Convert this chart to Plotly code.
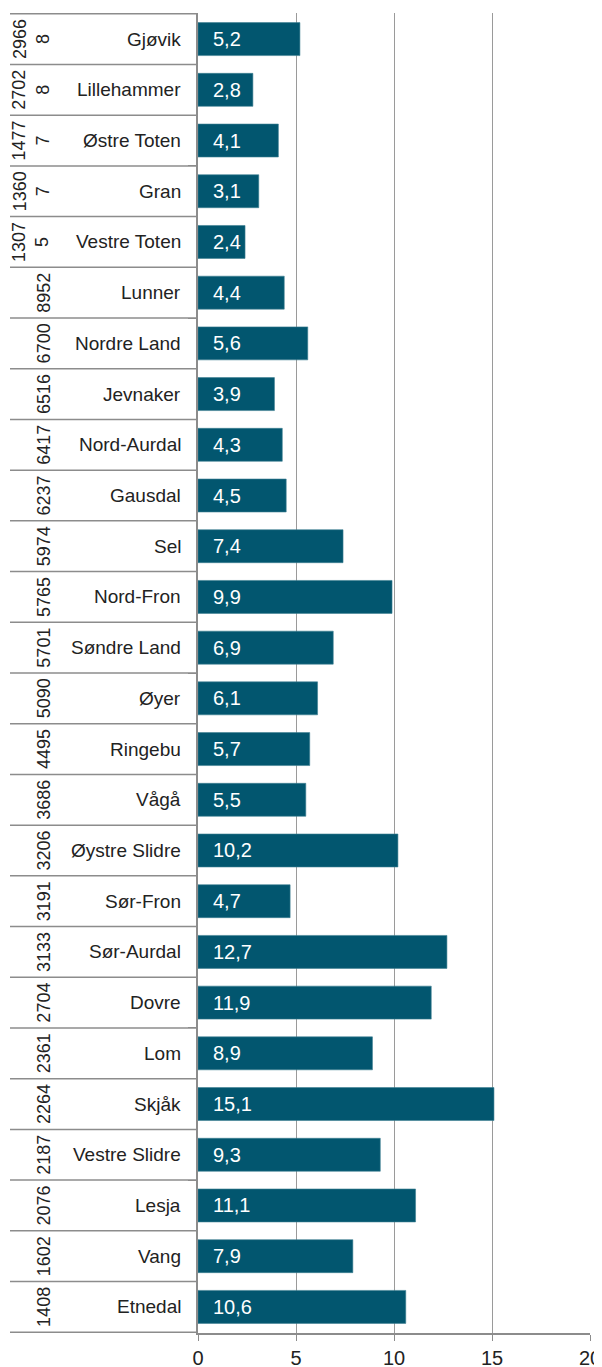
import plotly.graph_objects as go

names = ["Gjøvik", "Lillehammer", "Østre Toten", "Gran", "Vestre Toten", "Lunner",
         "Nordre Land", "Jevnaker", "Nord-Aurdal", "Gausdal", "Sel", "Nord-Fron",
         "Søndre Land", "Øyer", "Ringebu", "Vågå", "Øystre Slidre", "Sør-Fron",
         "Sør-Aurdal", "Dovre", "Lom", "Skjåk", "Vestre Slidre", "Lesja", "Vang", "Etnedal"]
population = [29668, 27028, 14777, 13607, 13075, 8952, 6700, 6516, 6417, 6237, 5974, 5765,
              5701, 5090, 4495, 3686, 3206, 3191, 3133, 2704, 2361, 2264, 2187, 2076, 1602, 1408]
values = [5.2, 2.8, 4.1, 3.1, 2.4, 4.4, 5.6, 3.9, 4.3, 4.5, 7.4, 9.9, 6.9, 6.1, 5.7, 5.5,
          10.2, 4.7, 12.7, 11.9, 8.9, 15.1, 9.3, 11.1, 7.9, 10.6]
x_ticks = [0, 5, 10, 15, 20]

FONT = "Liberation Sans"
BAR = "#02566F"
LINE = "#8C8C8C"

fig = go.Figure(go.Bar(
    x=values, y=names, orientation="h",
    marker=dict(color=BAR, line=dict(color="#3E7F92", width=0.6)),
    hoverinfo="skip",
))

ann = []
for n, p, v in zip(names, population, values):
    ann.append(dict(x=0, y=n, xref="x", yref="y", text=f"{v:.1f}".replace(".", ","),
                    showarrow=False, xanchor="left", xshift=13,
                    font=dict(family=FONT, size=20, color="white")))
    ann.append(dict(x=0, y=n, xref="paper", yref="y", text=n, showarrow=False,
                    xanchor="right", xshift=-15, font=dict(family=FONT, size=19, color="#222")))
    s = str(p)
    if len(s) > 4:
        txt = s[:4] + "<br>" + s[4:]
        xs = -167
    else:
        txt = s
        xs = -154
    ann.append(dict(x=0, y=n, xref="paper", yref="y", text=txt, showarrow=False,
                    textangle=-90, xanchor="center", xshift=xs, align="center",
                    font=dict(family=FONT, size=18, color="#222")))

shapes = []
for i in range(len(names) + 1):
    shapes.append(dict(type="line", xref="paper", yref="y", x0=-188 / 392, x1=0,
                       y0=i - 0.5, y1=i - 0.5, line=dict(color=LINE, width=1.5)))

# the page body has an 8px margin, so the figure is drawn 8px right and down
fig.update_layout(
    width=594, height=1359,
    margin=dict(l=190, r=12, t=5, b=34),
    paper_bgcolor="white", plot_bgcolor="white",
    bargap=0.35, showlegend=False,
    annotations=ann, shapes=shapes,
    font=dict(family=FONT, size=18, color="#222"),
    xaxis=dict(range=[0, 20], tickvals=x_ticks, showgrid=True, gridcolor="#9A9A9A",
               gridwidth=1.2, zeroline=False, showline=True, linecolor=LINE, linewidth=1.5,
               ticks="outside", ticklen=6, tickcolor=LINE, automargin=False,
               tickfont=dict(family=FONT, size=20, color="#222")),
    yaxis=dict(autorange="reversed", showticklabels=False, showgrid=False, zeroline=False,
               showline=True, linecolor=LINE, linewidth=1.5, ticks="outside", automargin=False,
               tickson="boundaries", ticklen=8, tickcolor=LINE),
)

fig.write_html("out.html")
